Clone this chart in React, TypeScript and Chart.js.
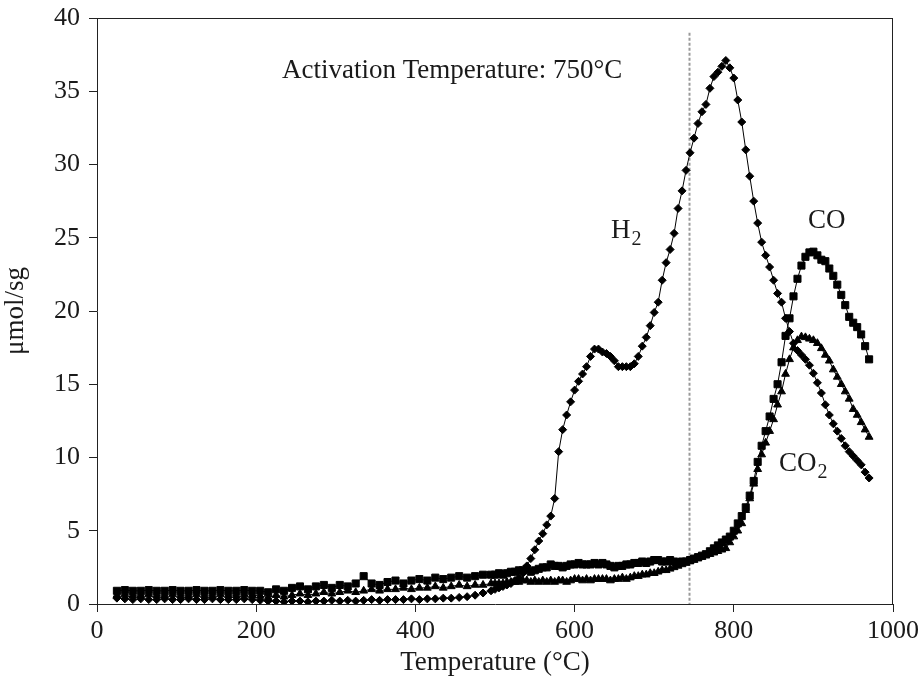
import React, { useEffect, useRef } from "react";
import { Chart, registerables } from "chart.js";
Chart.register(...registerables);

// Temperature (°C) shared by all three series
const temperatures = [
  25, 35, 45, 55, 65, 75, 85, 95, 105, 115, 125, 135, 145, 155, 165, 175, 185, 195,
  205, 215, 225, 235, 245, 255, 265, 275, 285, 295,
  305, 315, 325, 335, 345, 355, 365, 375, 385, 395,
  405, 415, 425, 435, 445, 455, 465, 475, 485, 495,
  500, 505, 510, 515, 520, 525, 530, 535, 540, 545, 550, 555, 560, 565, 570, 575,
  580, 585, 590, 595, 600, 605, 610, 615, 620, 625, 630, 635, 640, 645, 650, 655,
  660, 665, 670, 675, 680, 685, 690, 695, 700, 705, 710, 715, 720, 725, 730, 735,
  740, 745, 750, 755, 760, 765, 770, 775, 780, 785, 790, 795, 800, 805, 810, 815,
  820, 825, 830, 835, 840, 845, 850, 855, 860, 865, 870, 875, 880, 885, 890, 895,
  900, 905, 910, 915, 920, 925, 930, 935, 940, 945, 950, 955, 960, 965, 970,
];

const h2Values = [
  0.4, 0.35, 0.3, 0.35, 0.3, 0.3, 0.35, 0.3, 0.3, 0.35, 0.3, 0.3, 0.35, 0.3, 0.3, 0.3, 0.35, 0.3,
  0.25, 0.2, 0.2, 0.15, 0.2, 0.2, 0.15, 0.2, 0.2, 0.25,
  0.2, 0.25, 0.2, 0.25, 0.3, 0.25, 0.3, 0.3, 0.3, 0.35,
  0.3, 0.35, 0.35, 0.4, 0.4, 0.45, 0.5, 0.6, 0.75, 0.9,
  1.0, 1.1, 1.2, 1.3, 1.4, 1.6, 1.8, 2.1, 2.6, 3.1, 3.7, 4.3, 4.8, 5.4, 6.0, 7.2,
  10.4, 11.9, 12.9, 13.8, 14.6, 15.2, 15.7, 16.2, 16.9, 17.4, 17.4, 17.2, 17.1, 16.9, 16.6, 16.2,
  16.2, 16.2, 16.2, 16.4, 16.9, 17.6, 18.2, 19.0, 19.9, 20.6, 22.1, 23.3, 24.2, 25.3, 27.0, 28.2,
  29.6, 30.8, 31.8, 32.8, 33.6, 34.1, 35.2, 36.0, 36.3, 36.7, 37.1, 36.6, 35.9, 34.4, 32.9, 31.0,
  29.2, 27.5, 26.0, 24.7, 23.8, 23.0, 22.1, 21.2, 20.6, 19.5, 18.6, 17.8, 17.3, 17.0, 16.7, 16.3,
  15.75, 15.1, 14.4, 13.6, 12.9, 12.3, 11.8, 11.3, 10.8, 10.4, 10.1, 9.8, 9.5, 9.0, 8.6,
];

const coValues = [
  0.9, 0.95, 0.9, 0.9, 0.95, 0.9, 0.9, 0.95, 0.9, 0.9, 0.95, 0.9, 0.9, 0.95, 0.9, 0.9, 0.95, 0.9,
  0.9, 0.8, 1.0, 0.9, 1.1, 1.2, 1.0, 1.2, 1.3, 1.1,
  1.3, 1.2, 1.4, 1.9, 1.4, 1.3, 1.5, 1.6, 1.4, 1.6,
  1.7, 1.6, 1.8, 1.7, 1.8, 1.9, 1.8, 1.9, 2.0, 2.0,
  2.0, 2.1, 2.0, 2.1, 2.2, 2.2, 2.3, 2.3, 2.4, 2.2, 2.3, 2.4, 2.5, 2.5, 2.7, 2.6,
  2.6, 2.5, 2.6, 2.7, 2.7, 2.8, 2.7, 2.7, 2.7, 2.8, 2.7, 2.8, 2.7, 2.6, 2.5, 2.6,
  2.6, 2.7, 2.7, 2.8, 2.8, 2.9, 2.8, 2.9, 3.0, 3.0, 2.9, 2.9, 3.0, 2.9, 2.8, 2.9,
  2.9, 3.0, 3.1, 3.2, 3.3, 3.4, 3.6, 3.8, 4.0, 4.2, 4.4, 4.6, 5.0, 5.5, 6.0, 6.6,
  7.4, 8.4, 9.7, 10.8, 11.8, 12.8, 14.0, 15.0, 16.5, 18.3, 19.5, 21.0, 22.2, 23.1, 23.7, 24.0,
  24.05, 23.8, 23.5, 23.4, 22.9, 22.4, 21.8, 21.1, 20.4, 19.6, 19.2, 18.9, 18.4, 17.6, 16.7,
];

const co2Values = [
  0.6, 0.65, 0.6, 0.6, 0.65, 0.6, 0.6, 0.65, 0.6, 0.6, 0.65, 0.6, 0.6, 0.65, 0.6, 0.6, 0.65, 0.6,
  0.55, 0.45, 0.6, 0.5, 0.6, 0.7, 0.6, 0.7, 0.8, 0.7,
  0.8, 0.9, 0.8, 0.9, 1.0, 0.9, 1.0, 1.0, 1.1, 1.0,
  1.1, 1.1, 1.2, 1.1, 1.2, 1.3, 1.2, 1.3, 1.3, 1.4,
  1.4, 1.4, 1.4, 1.5, 1.5, 1.5, 1.5, 1.6, 1.6, 1.5, 1.6, 1.5, 1.6, 1.5, 1.6, 1.5,
  1.6, 1.6, 1.5, 1.6, 1.7, 1.7, 1.6, 1.7, 1.6, 1.7, 1.7, 1.7, 1.7, 1.6, 1.7, 1.7,
  1.8, 1.7, 1.8, 1.9, 1.9, 2.0, 2.0, 2.1, 2.1, 2.2, 2.3, 2.3, 2.4, 2.5, 2.6, 2.7,
  2.8, 2.9, 3.0, 3.1, 3.2, 3.3, 3.4, 3.5, 3.6, 3.7, 3.8, 4.2, 4.6, 5.0, 5.5, 6.4,
  7.2, 8.2, 9.2, 10.2, 11.0, 11.8, 12.6, 13.6, 14.5, 15.7, 16.7, 17.5, 18.0, 18.25, 18.2, 18.1,
  18.0, 17.8, 17.45, 17.0, 16.6, 16.0, 15.5, 15.0, 14.5, 14.0, 13.3, 12.9, 12.4, 11.9, 11.4,
];

const xTickValues = [0, 200, 400, 600, 800, 1000];
const yTickValues = [0, 5, 10, 15, 20, 25, 30, 35, 40];
const activationTemperature = 744;
const activationText = "Activation Temperature: 750°C";

// [main text, subscript, x (°C), y (µmol/sg) of baseline-left]
const seriesLabels: [string, string, number, number][] = [
  ["H", "2", 645.7, 24.98],
  ["CO", "", 893.2, 25.67],
  ["CO", "2", 856.8, 9.1],
];
const activationTextPos = [232.4, 35.9];

const FONT = "'Liberation Serif', 'Times New Roman', serif";

const overlay = {
  id: "overlay",
  beforeDatasetsDraw(chart: any) {
    const { ctx, chartArea, scales } = chart;
    const x = scales.x;
    const y = scales.y;
    const px = Math.round(x.getPixelForValue(activationTemperature)) + 0.5;
    ctx.save();
    ctx.strokeStyle = "#9a9a9a";
    ctx.lineWidth = 2;
    ctx.setLineDash([3, 2]);
    ctx.beginPath();
    ctx.moveTo(px, y.getPixelForValue(39.0));
    ctx.lineTo(px, chartArea.bottom);
    ctx.stroke();
    ctx.restore();
  },
  afterDatasetsDraw(chart: any) {
    const { ctx, chartArea, scales } = chart;
    const x = scales.x;
    const y = scales.y;
    ctx.save();
    ctx.strokeStyle = "#222";
    ctx.lineWidth = 1;
    ctx.beginPath();
    ctx.moveTo(chartArea.left, Math.round(chartArea.top) + 0.5);
    ctx.lineTo(chartArea.right, Math.round(chartArea.top) + 0.5);
    ctx.moveTo(Math.round(chartArea.right) - 0.5, chartArea.top);
    ctx.lineTo(Math.round(chartArea.right) - 0.5, chartArea.bottom);
    ctx.stroke();

    ctx.fillStyle = "#1a1a1a";
    ctx.textBaseline = "alphabetic";
    ctx.textAlign = "left";
    ctx.font = `27px ${FONT}`;
    ctx.fillText(
      activationText,
      x.getPixelForValue(activationTextPos[0]),
      y.getPixelForValue(activationTextPos[1])
    );
    for (const [main, sub, vx, vy] of seriesLabels) {
      const lx = x.getPixelForValue(vx);
      const ly = y.getPixelForValue(vy);
      ctx.font = `27px ${FONT}`;
      ctx.fillText(main, lx, ly);
      if (sub) {
        const w = ctx.measureText(main).width;
        ctx.font = `20px ${FONT}`;
        ctx.fillText(sub, lx + w + 1, ly + 7);
      }
    }
    ctx.restore();
  },
};

export default function App() {
  const ref = useRef<HTMLCanvasElement | null>(null);
  useEffect(() => {
    if (!ref.current) return;
    const mk = (vals: number[]) => temperatures.map((t, i) => ({ x: t, y: vals[i] }));
    const common = {
      borderColor: "#000",
      backgroundColor: "#000",
      pointBackgroundColor: "#000",
      pointBorderColor: "#000",
      borderWidth: 1,
      pointBorderWidth: 1,
      showLine: true,
      tension: 0,
    };
    const chart = new Chart(ref.current, {
      type: "scatter",
      data: {
        datasets: [
          { ...common, label: "H2", data: mk(h2Values), pointStyle: "rectRot", pointRadius: 4 },
          { ...common, label: "CO", data: mk(coValues), pointStyle: "rect", pointRadius: 5 },
          { ...common, label: "CO2", data: mk(co2Values), pointStyle: "triangle", pointRadius: 4.5 },
        ],
      },
      options: {
        animation: false,
        responsive: true,
        maintainAspectRatio: false,
        layout: { padding: { top: 18, right: 29, left: 0, bottom: 0 } },
        plugins: { legend: { display: false }, tooltip: { enabled: false } },
        scales: {
          x: {
            type: "linear",
            min: 0,
            max: 1000,
            afterFit: (s: any) => {
              s.height = 83;
              s.paddingLeft = 0;
              s.paddingRight = 0;
            },
            afterBuildTicks: (s: any) => { s.ticks = xTickValues.map((v) => ({ value: v })); },
            ticks: {
              color: "#1a1a1a",
              font: { family: FONT, size: 26 },
              padding: 4,
              maxRotation: 0,
              callback: (v: any) => String(v),
            },
            grid: { drawOnChartArea: false, drawTicks: true, tickLength: 8, tickColor: "#222" },
            border: { display: true, color: "#222", width: 1 },
            title: {
              display: true,
              text: "Temperature (°C)",
              color: "#1a1a1a",
              font: { family: FONT, size: 27 },
              padding: { top: 0, bottom: 8 },
            },
          },
          y: {
            type: "linear",
            min: 0,
            max: 40,
            afterFit: (s: any) => {
              s.width = 97;
              s.paddingTop = 0;
              s.paddingBottom = 0;
            },
            afterBuildTicks: (s: any) => { s.ticks = yTickValues.map((v) => ({ value: v })); },
            ticks: {
              color: "#1a1a1a",
              font: { family: FONT, size: 26 },
              padding: 9,
              callback: (v: any) => String(v),
            },
            grid: { drawOnChartArea: false, drawTicks: true, tickLength: 8, tickColor: "#222" },
            border: { display: true, color: "#222", width: 1 },
            title: {
              display: true,
              text: "μmol/sg",
              color: "#1a1a1a",
              font: { family: FONT, size: 27 },
              padding: { top: 0, bottom: 0 },
            },
          },
        },
      },
      plugins: [overlay],
    });
    return () => chart.destroy();
  }, []);
  return (
    <div style={{ position: "fixed", left: 0, top: 0, width: 922, height: 687, background: "#fff" }}>
      <canvas ref={ref} />
    </div>
  );
}
